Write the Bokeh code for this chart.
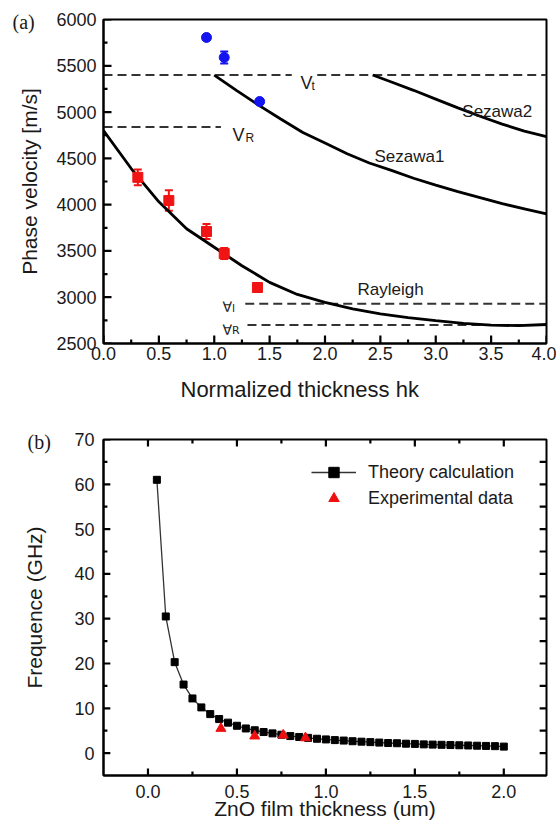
import math
from bokeh.plotting import figure
from bokeh.layouts import column
from bokeh.models import (Range1d, FixedTicker, PrintfTickFormatter, Label, Title,
                          Legend, LegendItem, Whisker, ColumnDataSource, TeeHead)
from bokeh.embed import file_html
from bokeh.resources import INLINE

# ---------------- Panel (a) data ----------------
rayleigh_hk = [0.0, 0.25, 0.5, 0.75, 1.0, 1.25, 1.5, 1.75, 2.0, 2.25, 2.5, 2.75, 3.0, 3.25, 3.5, 3.75, 4.0]
rayleigh_v = [4800, 4390, 4030, 3740, 3540, 3340, 3160, 3030, 2945, 2875, 2820, 2780, 2748, 2718, 2698, 2693, 2705]

sezawa1_hk = [1.0, 1.2, 1.4, 1.6, 1.8, 2.0, 2.2, 2.4, 2.6, 2.8, 3.0, 3.2, 3.4, 3.6, 3.8, 4.0]
sezawa1_v = [5400, 5235, 5075, 4925, 4780, 4665, 4550, 4450, 4370, 4285, 4210, 4140, 4075, 4010, 3955, 3900]

sezawa2_hk = [2.43, 2.6, 2.8, 3.0, 3.2, 3.4, 3.6, 3.8, 4.0]
sezawa2_v = [5400, 5325, 5235, 5140, 5045, 4955, 4870, 4795, 4735]

red_hk = [0.31, 0.59, 0.93, 1.09, 1.39]
red_v = [4295, 4045, 3710, 3472, 3105]
red_err = [85, 110, 80, 60, 0]

blue_hk = [0.93, 1.09, 1.41]
blue_v = [5806, 5590, 5114]
blue_err = [0, 65, 0]

dash_x0 = [0.0, 1.93, 0.0, 1.28, 1.30]
dash_x1 = [1.70, 4.0, 1.06, 4.0, 4.0]
dash_y = [5400, 5400, 4840, 2930, 2700]

a_xrange = (0.0, 4.0)
a_yrange = (2500, 6000)
a_xticks = [0.0, 0.5, 1.0, 1.5, 2.0, 2.5, 3.0, 3.5, 4.0]
a_xminor = [0.25, 0.75, 1.25, 1.75, 2.25, 2.75, 3.25, 3.75]
a_yticks = [2500, 3000, 3500, 4000, 4500, 5000, 5500, 6000]
a_yminor = [2750, 3250, 3750, 4250, 4750, 5250, 5750]

# ---------------- Panel (b) data ----------------
theory_t = [0.05, 0.10, 0.15, 0.20, 0.25, 0.30, 0.35, 0.40, 0.45, 0.50,
            0.55, 0.60, 0.65, 0.70, 0.75, 0.80, 0.85, 0.90, 0.95, 1.00,
            1.05, 1.10, 1.15, 1.20, 1.25, 1.30, 1.35, 1.40, 1.45, 1.50,
            1.55, 1.60, 1.65, 1.70, 1.75, 1.80, 1.85, 1.90, 1.95, 2.00]
theory_f = [61.0, 30.5, 20.3, 15.3, 12.2, 10.2, 8.7, 7.6, 6.8, 6.1,
            5.5, 5.1, 4.7, 4.4, 4.1, 3.8, 3.6, 3.4, 3.2, 3.05,
            2.9, 2.8, 2.65, 2.55, 2.45, 2.35, 2.25, 2.2, 2.1, 2.05,
            1.95, 1.9, 1.85, 1.8, 1.75, 1.7, 1.65, 1.6, 1.55, 1.45]
exp_t = [0.41, 0.60, 0.76, 0.885]
exp_f = [5.5, 3.8, 4.0, 3.4]

b_xrange = (-0.25, 2.24)
b_yrange = (-5, 70)
b_xticks = [0.0, 0.5, 1.0, 1.5, 2.0]
b_xminor = [0.25, 0.75, 1.25, 1.75]
b_yticks = [0, 10, 20, 30, 40, 50, 60, 70]
b_yminor = [5, 15, 25, 35, 45, 55, 65]
b_right_ticks = [0, 5, 10, 15, 20, 25, 30, 35, 40, 45, 50, 55, 60, 65]

SANS = "Liberation Sans"
SERIF = "Liberation Serif"
TXT = "#1a1a1a"

W = 556
A_H, A_L, A_R, A_T, A_B = 416, 103, 10, 19, 73
B_H, B_L, B_R, B_T, B_B = 414, 98, 5, 23, 55


def style_axis(ax, major, fmt, size="18px", standoff=6):
    ax.ticker = FixedTicker(ticks=major, minor_ticks=[])
    ax.formatter = PrintfTickFormatter(format=fmt)
    ax.major_label_standoff = standoff
    ax.axis_line_color = "black"
    ax.axis_line_width = 2
    ax.major_tick_in = 0
    ax.major_tick_out = 0
    ax.minor_tick_in = 0
    ax.minor_tick_out = 0
    ax.major_label_text_font = SANS
    ax.major_label_text_font_size = size
    ax.major_label_text_color = TXT
    ax.axis_label_text_font = SANS
    ax.axis_label_text_font_style = "normal"
    ax.axis_label_text_color = TXT


def lab(p, text, x, y, size="17px", font=SANS):
    p.add_layout(Label(x=x, y=y, x_units="data", y_units="data", text=text,
                       text_font=font, text_font_size=size, text_color=TXT,
                       text_align="left", text_baseline="alphabetic"))


def seg_ticks(p, side, values, xr, yr, ux, uy, length):
    n = len(values)
    if side == "bottom":
        p.segment(x0=values, x1=values, y0=[yr[0]] * n, y1=[yr[0] + length * uy] * n,
                  line_color="black", line_width=2.2)
    elif side == "top":
        p.segment(x0=values, x1=values, y0=[yr[1]] * n, y1=[yr[1] - length * uy] * n,
                  line_color="black", line_width=2.2)
    elif side == "left":
        p.segment(y0=values, y1=values, x0=[xr[0]] * n, x1=[xr[0] + length * ux] * n,
                  line_color="black", line_width=2.2)
    else:
        p.segment(y0=values, y1=values, x0=[xr[1]] * n, x1=[xr[1] - length * ux] * n,
                  line_color="black", line_width=2.2)


# ================= Panel (a) =================
pa = figure(width=W, height=A_H, x_range=Range1d(*a_xrange), y_range=Range1d(*a_yrange),
            output_backend="svg", toolbar_location=None,
            min_border_left=A_L, min_border_right=A_R, min_border_top=A_T, min_border_bottom=A_B)
pa.grid.visible = False
pa.outline_line_color = "black"
pa.outline_line_width = 2
pa.background_fill_color = "white"
pa.border_fill_color = "white"
style_axis(pa.xaxis[0], a_xticks, "%.1f", standoff=3)
style_axis(pa.yaxis[0], a_yticks, "%d", standoff=7)
pa.yaxis[0].axis_label = "Phase velocity [m/s]"
pa.yaxis[0].axis_label_text_font_size = "21px"
pa.yaxis[0].axis_label_standoff = 12

pa.segment(x0=dash_x0, y0=dash_y, x1=dash_x1, y1=dash_y, line_color="#333333",
           line_width=2, line_dash="9 5")
pa.line(rayleigh_hk, rayleigh_v, line_color="black", line_width=2.8)
pa.line(sezawa1_hk, sezawa1_v, line_color="black", line_width=2.8)
pa.line(sezawa2_hk, sezawa2_v, line_color="black", line_width=2.8)

red_idx = [i for i in range(len(red_err)) if red_err[i] > 0]
red_src = ColumnDataSource(dict(x=[red_hk[i] for i in red_idx],
                                lo=[red_v[i] - red_err[i] for i in red_idx],
                                hi=[red_v[i] + red_err[i] for i in red_idx]))
blue_idx = [i for i in range(len(blue_err)) if blue_err[i] > 0]
blue_src = ColumnDataSource(dict(x=[blue_hk[i] for i in blue_idx],
                                 lo=[blue_v[i] - blue_err[i] for i in blue_idx],
                                 hi=[blue_v[i] + blue_err[i] for i in blue_idx]))
for src, col in ((red_src, "#f01414"), (blue_src, "#1414f0")):
    pa.add_layout(Whisker(source=src, base="x", lower="lo", upper="hi", line_color=col,
                          line_width=2,
                          upper_head=TeeHead(size=8, line_color=col, line_width=2),
                          lower_head=TeeHead(size=8, line_color=col, line_width=2)))
pa.scatter(red_hk, red_v, marker="square", size=10, fill_color="#f01414", line_color="#f01414")
pa.scatter(blue_hk, blue_v, marker="circle", size=10, fill_color="#1414f0", line_color="#1414f0")

ua_x = (a_xrange[1] - a_xrange[0]) / (W - A_L - A_R)
ua_y = (a_yrange[1] - a_yrange[0]) / (A_H - A_T - A_B)
seg_ticks(pa, "bottom", a_xticks, a_xrange, a_yrange, ua_x, ua_y, 8)
seg_ticks(pa, "bottom", a_xminor, a_xrange, a_yrange, ua_x, ua_y, 4)
seg_ticks(pa, "left", a_yticks, a_xrange, a_yrange, ua_x, ua_y, 8)
seg_ticks(pa, "left", a_yminor, a_xrange, a_yrange, ua_x, ua_y, 4)

lab(pa, "V", 1.779, 5309, size="18px")
lab(pa, "t", 1.878, 5287, size="12px")
lab(pa, "V", 1.165, 4747, size="18px")
lab(pa, "R", 1.282, 4725, size="12px")
lab(pa, "\u2200", 1.075, 2889, size="14px", font="DejaVu Sans")
lab(pa, "l", 1.16, 2878, size="11px", font="DejaVu Sans")
lab(pa, "\u2200", 1.075, 2651, size="14px", font="DejaVu Sans")
lab(pa, "R", 1.16, 2640, size="11px", font="DejaVu Sans")
lab(pa, "Sezawa2", 3.24, 5006)
lab(pa, "Sezawa1", 2.447, 4520)
lab(pa, "Rayleigh", 2.293, 3083)

pa.add_layout(Title(text="(a)", align="left", offset=-91, standoff=-26, text_font=SERIF,
                    text_font_size="20px", text_font_style="normal", text_color=TXT), "above")
pa.add_layout(Title(text="Normalized thickness hk", align="left", offset=77, standoff=24,
                    text_font=SANS, text_font_size="22px", text_font_style="normal",
                    text_color=TXT), "below")

# ================= Panel (b) =================
pb = figure(width=W, height=B_H, x_range=Range1d(*b_xrange), y_range=Range1d(*b_yrange),
            output_backend="svg", toolbar_location=None,
            min_border_left=B_L, min_border_right=B_R, min_border_top=B_T, min_border_bottom=B_B)
pb.grid.visible = False
pb.outline_line_color = "black"
pb.outline_line_width = 2
pb.background_fill_color = "white"
pb.border_fill_color = "white"
style_axis(pb.xaxis[0], b_xticks, "%.1f", standoff=9)
style_axis(pb.yaxis[0], b_yticks, "%d", standoff=9)
pb.xaxis[0].axis_label = "ZnO film thickness (um)"
pb.xaxis[0].axis_label_text_font_size = "21px"
pb.xaxis[0].axis_label_standoff = -4
pb.yaxis[0].axis_label = "Frequence (GHz)"
pb.yaxis[0].axis_label_text_font_size = "21px"
pb.yaxis[0].axis_label_standoff = 25

th_line = pb.line(theory_t, theory_f, line_color="#333333", line_width=1.3)
th_pts = pb.scatter(theory_t, theory_f, marker="square", size=7, fill_color="black", line_color="black")
ex_line = pb.line([], [], line_color="#ff8c8c", line_width=2.5)
ex_pts = pb.scatter(exp_t, exp_f, marker="triangle", size=10, fill_color="#ee1010", line_color="#ee1010")

ub_x = (b_xrange[1] - b_xrange[0]) / (W - B_L - B_R)
ub_y = (b_yrange[1] - b_yrange[0]) / (B_H - B_T - B_B)
seg_ticks(pb, "bottom", b_xticks, b_xrange, b_yrange, ub_x, ub_y, 7)
seg_ticks(pb, "bottom", b_xminor, b_xrange, b_yrange, ub_x, ub_y, 4)
seg_ticks(pb, "top", b_xticks, b_xrange, b_yrange, ub_x, ub_y, 7)
seg_ticks(pb, "top", b_xminor, b_xrange, b_yrange, ub_x, ub_y, 4)
seg_ticks(pb, "left", b_yticks, b_xrange, b_yrange, ub_x, ub_y, 7)
seg_ticks(pb, "left", b_yminor, b_xrange, b_yrange, ub_x, ub_y, 4)
seg_ticks(pb, "right", b_right_ticks, b_xrange, b_yrange, ub_x, ub_y, 7)

legend = Legend(items=[LegendItem(label="Theory calculation", renderers=[th_line, th_pts]),
                       LegendItem(label="Experimental data", renderers=[ex_line, ex_pts])],
                location=(208, 264), glyph_width=45, glyph_height=26, label_height=26,
                label_standoff=12, spacing=0, padding=0, margin=0,
                border_line_alpha=0, background_fill_alpha=0,
                label_text_font=SANS, label_text_font_size="18px", label_text_color=TXT)
pb.add_layout(legend)

pb.add_layout(Title(text="(b)", align="left", offset=-76, standoff=-26, text_font=SERIF,
                    text_font_size="20px", text_font_style="normal", text_color=TXT), "above")

layout = column(pa, pb, spacing=0)
open("out.html", "w").write(file_html(layout, INLINE))
